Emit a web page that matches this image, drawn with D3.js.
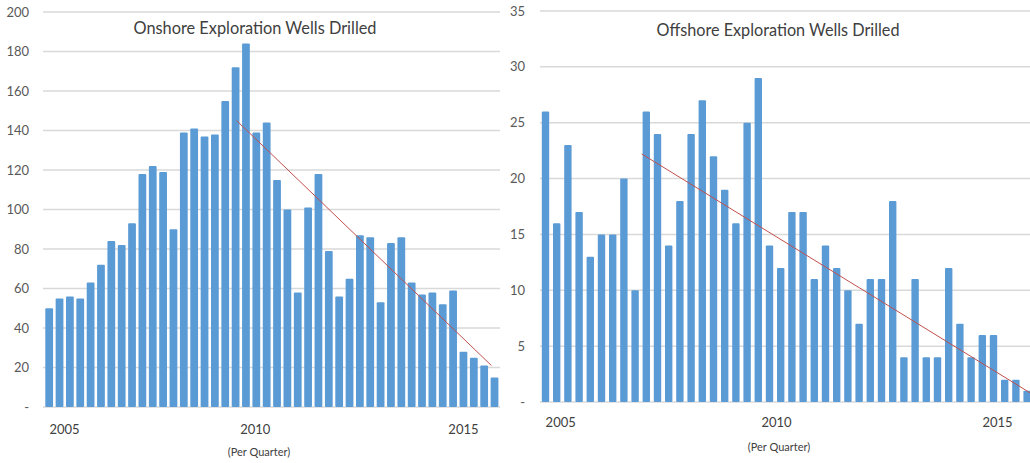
<!DOCTYPE html>
<html>
<head>
<meta charset="utf-8">
<script src="https://cdn.jsdelivr.net/npm/d3@7"></script>
<style>
  body { margin: 0; background: #fff; }
  svg { display: block; }
  text { font-family: Lato, "Open Sans", sans-serif; fill: #595959; }
</style>
</head>
<body>
<div id="chart"></div>
<script>
// categories (quarters 2005 Q1 - 2015 Q4)
var quarters = [
    "2005 Q1","2005 Q2","2005 Q3","2005 Q4","2006 Q1","2006 Q2","2006 Q3","2006 Q4",
    "2007 Q1","2007 Q2","2007 Q3","2007 Q4","2008 Q1","2008 Q2","2008 Q3","2008 Q4",
    "2009 Q1","2009 Q2","2009 Q3","2009 Q4","2010 Q1","2010 Q2","2010 Q3","2010 Q4",
    "2011 Q1","2011 Q2","2011 Q3","2011 Q4","2012 Q1","2012 Q2","2012 Q3","2012 Q4",
    "2013 Q1","2013 Q2","2013 Q3","2013 Q4","2014 Q1","2014 Q2","2014 Q3","2014 Q4",
    "2015 Q1","2015 Q2","2015 Q3","2015 Q4"
];

// wells drilled per quarter
var onshoreWells = [50, 55, 56, 55, 63, 72, 84, 82, 93, 118, 122, 119, 90, 139, 141, 137,
    138, 155, 172, 184, 139, 144, 115, 100, 58, 101, 118, 79, 56, 65, 87, 86,
    53, 83, 86, 63, 57, 58, 52, 59, 28, 25, 21, 15];
var offshoreWells = [26, 16, 23, 17, 13, 15, 15, 20, 10, 26, 24, 14, 18, 24, 27, 22,
    19, 16, 25, 29, 14, 12, 17, 17, 11, 14, 12, 10, 7, 11, 11, 18,
    4, 11, 4, 4, 12, 7, 4, 6, 6, 2, 2, 1];

// trend lines: [quarter index, value] at each end
var onshoreTrend = [[18.1, 145], [42.7, 21]];
var offshoreTrend = [[8.6, 22.2], [43.3, 0.8]];

// axis labels
var yearLabels = ["2005", "2010", "2015"];
var yearTickQuarters = ["2005 Q2", "2010 Q1", "2015 Q1"];
var onshoreYTicks = [0, 20, 40, 60, 80, 100, 120, 140, 160, 180, 200];
var offshoreYTicks = [0, 5, 10, 15, 20, 25, 30, 35];

var svg = d3.select("#chart").append("svg")
    .attr("width", 1030)
    .attr("height", 463);

function drawPanel(p) {
    var g = svg.append("g");

    var x = d3.scaleBand()
        .domain(quarters)
        .range(p.xRange)
        .paddingInner(p.pad)
        .paddingOuter(p.pad / 2);

    var y = d3.scaleLinear()
        .domain([0, d3.max(p.yTicks)])
        .range(p.yRange);

    // gridlines
    g.selectAll(".grid")
        .data(p.yTicks)
        .enter().append("line")
        .attr("x1", p.gridX[0])
        .attr("x2", p.gridX[1])
        .attr("y1", d => y(d))
        .attr("y2", d => y(d))
        .attr("stroke", "#d9d9d9")
        .attr("stroke-width", 1.5);

    // y tick labels
    g.selectAll(".ylab")
        .data(p.yTicks)
        .enter().append("text")
        .attr("x", p.yLabelX)
        .attr("y", d => y(d) + 4.5)
        .attr("text-anchor", "end")
        .style("font-size", "13px")
        .text(d => d === 0 ? "-" : d);

    // bars
    g.selectAll(".bar")
        .data(p.values)
        .enter().append("rect")
        .attr("x", (d, i) => x(quarters[i]))
        .attr("y", d => y(d))
        .attr("width", x.bandwidth())
        .attr("height", d => y(0) - y(d))
        .attr("rx", 1)
        .attr("fill", "#5b9bd5");

    // trend line
    var step = x.step();
    var x0 = x(quarters[0]) + x.bandwidth() / 2;
    g.append("path")
        .datum(p.trend)
        .attr("d", d3.line()
            .x(d => x0 + d[0] * step)
            .y(d => y(d[1])))
        .attr("fill", "none")
        .attr("stroke", "#c0504d")
        .attr("stroke-width", 1);

    // year labels
    g.selectAll(".xlab")
        .data(yearLabels)
        .enter().append("text")
        .attr("x", (d, i) => x(yearTickQuarters[i]) + x.bandwidth() / 2 + p.xLabelShift[i])
        .attr("y", p.xLabelY)
        .attr("text-anchor", "middle")
        .style("font-size", "13px")
        .style("fill", "#404040")
        .text(d => d);

    g.append("text")
        .attr("x", p.subX)
        .attr("y", p.subY)
        .attr("text-anchor", "middle")
        .style("font-size", "11px")
        .style("fill", "#404040")
        .text("(Per Quarter)");

    // title
    g.append("text")
        .attr("x", p.titleX)
        .attr("y", p.titleY)
        .attr("text-anchor", "middle")
        .attr("textLength", 243)
        .attr("lengthAdjust", "spacingAndGlyphs")
        .style("font-size", "18px")
        .style("fill", "#404040")
        .text(p.title);
}

drawPanel({
    title: "Onshore Exploration Wells Drilled",
    values: onshoreWells,
    trend: onshoreTrend,
    yTicks: onshoreYTicks,
    xRange: [44, 499.7],
    pad: 0.25,
    yRange: [407, 12],
    gridX: [43, 500],
    yLabelX: 29,
    xLabelY: 434,
    xLabelShift: [5, -1, 0],
    subX: 259,
    subY: 456,
    titleX: 255,
    titleY: 34
});

drawPanel({
    title: "Offshore Exploration Wells Drilled",
    values: offshoreWells,
    trend: offshoreTrend,
    yTicks: offshoreYTicks,
    xRange: [539.9, 1032.7],
    pad: 0.34,
    yRange: [402, 11],
    gridX: [540, 1030],
    yLabelX: 525,
    xLabelY: 427,
    xLabelShift: [4, 7, 4],
    subX: 779,
    subY: 451,
    titleX: 778,
    titleY: 36
});
</script>
</body>
</html>
